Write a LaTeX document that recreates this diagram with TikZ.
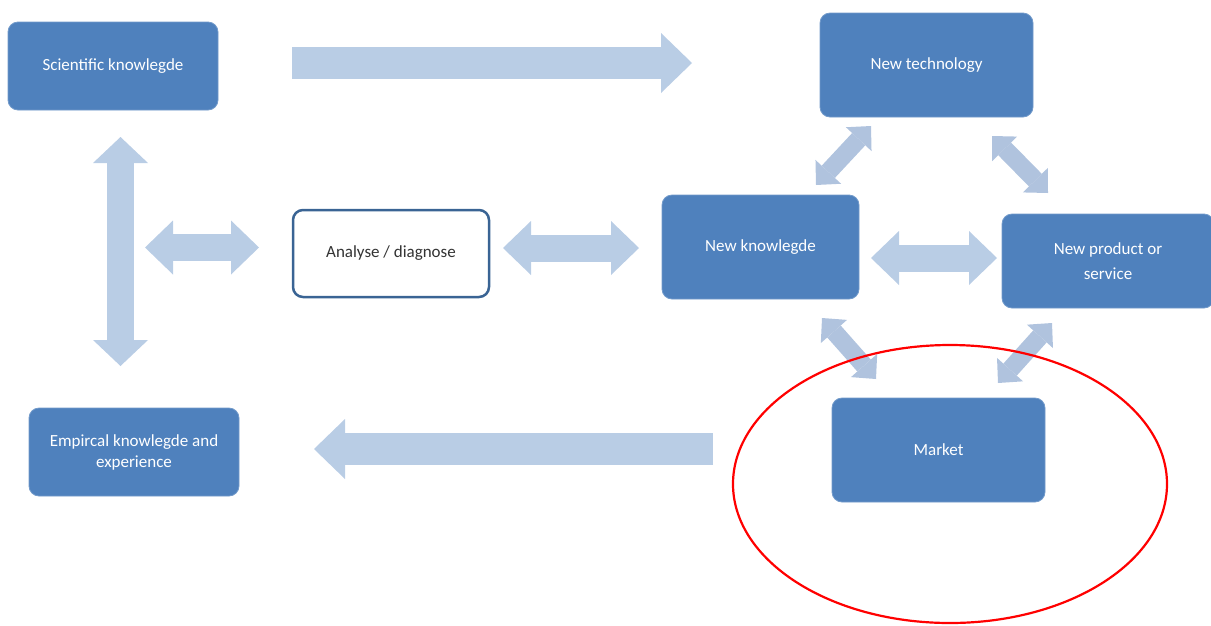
\documentclass[tikz,border=0pt]{standalone}
\usepackage{fontspec}
\setmainfont{Carlito}
\usetikzlibrary{arrows.meta}
\definecolor{boxblue}{HTML}{4F81BD}
\definecolor{arrowblue}{HTML}{B9CDE5}
\definecolor{diagblue}{HTML}{B0C3DE}
\definecolor{boxedge}{HTML}{3A6494}
\definecolor{ringred}{HTML}{FF0000}
\begin{document}
\begin{tikzpicture}[x=1pt,y=-1pt,
  box/.style={rectangle, rounded corners=10pt, fill=boxblue, draw=boxblue!80!white,
    line width=0.8pt, text=white, font=\fontsize{17}{21}\selectfont, align=center, inner sep=0pt},
  openbox/.style={box, fill=white, draw=boxedge, line width=2.5pt, text=black!80},
  longarrow/.style={draw=arrowblue, line width=32pt,
    arrows={-Triangle[length=31pt,width=60pt,line width=0pt]}},
  vdouble/.style={draw=arrowblue, line width=27pt,
    arrows={Triangle[length=26pt,width=55pt,line width=0pt]-Triangle[length=26pt,width=55pt,line width=0pt]}},
  hdouble/.style={draw=arrowblue, line width=27pt,
    arrows={Triangle[length=28pt,width=54pt,line width=0pt]-Triangle[length=28pt,width=54pt,line width=0pt]}},
  ddouble/.style={draw=diagblue, line width=18pt,
    arrows={Triangle[length=18pt,width=35pt,line width=0pt]-Triangle[length=18pt,width=35pt,line width=0pt]}},
  ring/.style={draw=ringred, line width=2.2pt}
]
\useasboundingbox (0,0) rectangle (1211,625);

% nodes
\node[box, minimum width=210pt, minimum height=88pt] (sci) at (113,66) {Scientific knowlegde};
\node[box, minimum width=213pt, minimum height=104pt] (tech) at (926.5,65) {New technology};
\node[openbox, minimum width=196pt, minimum height=87pt] (ana) at (391,253.5) {Analyse / diagnose};
\node[box, minimum width=197pt, minimum height=104pt] (nk) at (760.5,247) {New knowlegde};
\node[box, minimum width=212pt, minimum height=94pt, font=\fontsize{17}{25}\selectfont] (prod) at (1108,261) {New product or\\service};
\node[box, minimum width=213pt, minimum height=104pt] (market) at (938.5,450) {Market};
\node[box, minimum width=210pt, minimum height=88pt] (emp) at (134,452) {Empircal knowlegde and\\experience};

% arrow end points
\coordinate (a1s) at (292,63);   \coordinate (a1e) at (692,63);
\coordinate (a2s) at (713,449);  \coordinate (a2e) at (314,449);
\coordinate (v1s) at (120.5,137); \coordinate (v1e) at (120.5,366);
\coordinate (h1s) at (145,247.5); \coordinate (h1e) at (259,247.5);
\coordinate (h2s) at (503,248);  \coordinate (h2e) at (639,248);
\coordinate (h3s) at (871,258);  \coordinate (h3e) at (997,258);
\coordinate (d1s) at (816,185);  \coordinate (d1e) at (871,126);
\coordinate (d2s) at (992,136);  \coordinate (d2e) at (1048,193);
\coordinate (d3s) at (822,318);  \coordinate (d3e) at (876,379);
\coordinate (d4s) at (1052,323); \coordinate (d4e) at (998,383);

% arrows
\draw[longarrow] (a1s) -- (a1e);
\draw[longarrow] (a2s) -- (a2e);
\draw[vdouble] (v1s) -- (v1e);
\draw[hdouble] (h1s) -- (h1e);
\draw[hdouble] (h2s) -- (h2e);
\draw[hdouble] (h3s) -- (h3e);
\draw[ddouble] (d1s) -- (d1e);
\draw[ddouble] (d2s) -- (d2e);
\draw[ddouble] (d3s) -- (d3e);
\draw[ddouble] (d4s) -- (d4e);

% red ring around market
\draw[ring] (market.center) ++(11.5,34) ellipse [x radius=217pt, y radius=139pt];
\end{tikzpicture}
\end{document}
